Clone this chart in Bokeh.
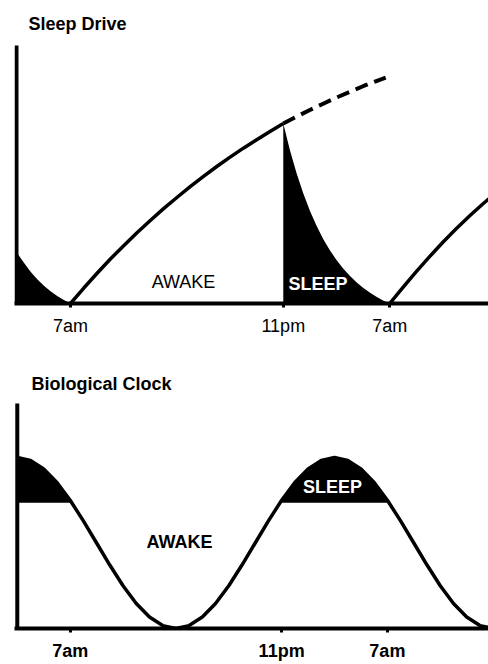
from bokeh.plotting import figure
from bokeh.models import Range1d, FixedTicker
from bokeh.layouts import column
from bokeh.core.properties import value
from bokeh.embed import file_html
from bokeh.resources import INLINE

FONT = "Liberation Sans"

# ---------------- data ----------------
tick_hours = [7, 23, 31]
tick_labels = ["7am", "11pm", "7am"]

# Sleep Drive panel (hours on a continuous clock, 11pm level = 100)
drive_axis_hour = 2.94
drive_axis_top = 143.3
early_hours = [2.94, 3.5, 4, 4.5, 5, 5.5, 6, 6.5, 7]
early_drive = [28.5, 22.7, 17.7, 13.5, 9.9, 6.8, 4.2, 1.9, 0]
awake_hours = [7, 8, 9, 10, 11, 12, 13, 14, 15, 16, 17, 18, 19, 20, 21, 22, 23]
awake_drive = [0, 8.6, 16.8, 24.7, 32.1, 39.3, 46.1, 52.7, 58.9, 64.9, 70.6,
               76.1, 81.3, 86.3, 91.0, 95.6, 100]
extended_hours = [23, 24, 25, 26, 27, 28, 29, 30, 30.7]
extended_drive = [100, 103.8, 107.5, 111.0, 114.4, 117.6, 120.7, 123.6, 125.5]
sleep_hours = [23, 23.5, 24, 24.5, 25, 25.5, 26, 26.5, 27, 27.5, 28, 28.5, 29,
               29.5, 30, 30.5, 31]
sleep_drive = [100, 85.2, 72.3, 61.2, 51.5, 43.2, 35.9, 29.6, 24.2, 19.5, 15.4,
               11.8, 8.7, 6.1, 3.7, 1.7, 0]
next_hours = [31, 32, 33, 34, 35, 36, 37, 38, 39]
next_drive = [0, 9.0, 17.7, 26.0, 34.0, 41.5, 48.6, 55.3, 61.6]

# Biological Clock panel (peak level = 100)
clock_axis_hour = 3.0
clock_axis_top = 131.6
clock_hours = list(range(3, 40))
clock_level = [100, 98.3, 93.3, 85.4, 75.0, 62.9, 50.0, 37.1, 25.0, 14.6, 6.7, 1.7,
               0, 1.7, 6.7, 14.6, 25.0, 37.1, 50.0, 62.9, 75.0, 85.4, 93.3, 98.3,
               100, 98.3, 93.3, 85.4, 75.0, 62.9, 50.0, 37.1, 25.0, 14.6, 6.7, 1.7, 0]
sleep_threshold = 73.5
clock_sleep1_hours = [3, 4, 5, 6, 7, 7.07]
clock_sleep1_level = [100, 98.3, 93.3, 85.4, 75.0, 73.5]
clock_sleep2_hours = [22.93, 23, 24, 25, 26, 27, 28, 29, 30, 31, 31.07]
clock_sleep2_level = [73.5, 75.0, 85.4, 93.3, 98.3, 100, 98.3, 93.3, 85.4, 75.0, 73.5]


def style_axis(p, bold):
    ax = p.xaxis[0]
    ax.ticker = FixedTicker(ticks=tick_hours)
    ax.major_label_overrides = {h: l for h, l in zip(tick_hours, tick_labels)}
    ax.minor_tick_line_color = None
    ax.axis_line_width = 4
    ax.axis_line_color = "black"
    ax.major_tick_in = 0
    ax.major_tick_out = 4
    ax.major_tick_line_width = 3
    ax.major_tick_line_color = "black"
    ax.major_label_text_font = FONT
    ax.major_label_text_font_size = "18px"
    ax.major_label_text_color = "black"
    ax.major_label_text_font_style = "bold" if bold else "normal"
    ax.major_label_standoff = 8


def label(p, x, y, txt, bold=False, color="black", align="center"):
    p.text(x=[x], y=[y], text=[txt], text_font=value(FONT),
           text_font_style="bold" if bold else "normal", text_font_size="18px",
           text_baseline="top", text_align=align, text_color=color)


# ---------------- top: Sleep Drive ----------------
p1 = figure(width=488, height=340, x_range=Range1d(2.79, 38.43), y_range=Range1d(0, 168.33),
            output_backend="svg", toolbar_location=None, y_axis_location=None,
            min_border_left=14, min_border_right=0, min_border_top=0, min_border_bottom=37)
p1.grid.visible = False
p1.outline_line_color = None
style_axis(p1, bold=False)

p1.varea(x=early_hours, y1=0, y2=early_drive, fill_color="black")
p1.varea(x=sleep_hours, y1=0, y2=sleep_drive, fill_color="black")
p1.line(awake_hours, awake_drive, line_width=3.5, color="black", line_join="round")
p1.line(next_hours, next_drive, line_width=3.5, color="black", line_join="round")
p1.line(extended_hours, extended_drive, line_width=4, color="black", line_dash="13 7")
p1.segment(x0=[drive_axis_hour], y0=[0], x1=[drive_axis_hour], y1=[drive_axis_top],
           line_width=4, color="black")
label(p1, 3.843, 160.9, "Sleep Drive", bold=True, align="left")
label(p1, 15.5, 17.4, "AWAKE")
label(p1, 25.61, 16.5, "SLEEP", bold=True, color="white")

# ---------------- bottom: Biological Clock ----------------
p2 = figure(width=488, height=324, x_range=Range1d(2.79, 38.65), y_range=Range1d(0, 168.4),
            output_backend="svg", toolbar_location=None, y_axis_location=None,
            min_border_left=11, min_border_right=0, min_border_top=0, min_border_bottom=36)
p2.grid.visible = False
p2.outline_line_color = None
style_axis(p2, bold=True)

p2.varea(x=clock_sleep1_hours, y1=sleep_threshold, y2=clock_sleep1_level, fill_color="black")
p2.varea(x=clock_sleep2_hours, y1=sleep_threshold, y2=clock_sleep2_level, fill_color="black")
p2.line(clock_hours, clock_level, line_width=3.5, color="black", line_join="round")
p2.segment(x0=[clock_axis_hour], y0=[0], x1=[clock_axis_hour], y1=[clock_axis_top],
           line_width=4, color="black")
label(p2, 4.068, 148.9, "Biological Clock", bold=True, align="left")
label(p2, 15.27, 56.4, "AWAKE", bold=True)
label(p2, 26.85, 88.5, "SLEEP", bold=True, color="white")

layout = column(p1, p2, spacing=0)
open("out.html", "w").write(file_html(layout, INLINE))
